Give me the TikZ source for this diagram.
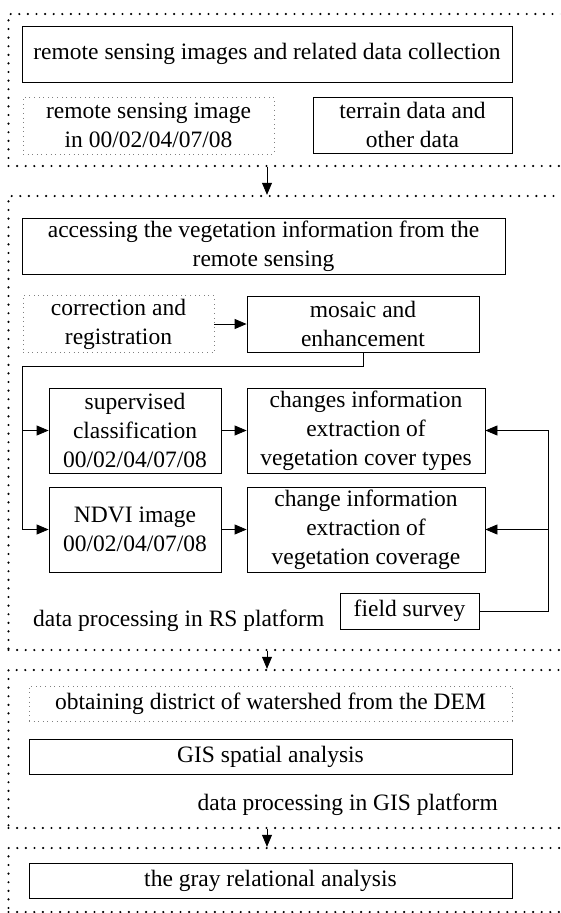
\documentclass[tikz,border=0pt]{standalone}
\usepackage{fontspec}
\setmainfont{Liberation Serif}
\usetikzlibrary{arrows.meta}

\tikzset{
  box/.style={draw, line width=0.8pt, inner sep=0pt, align=center},
  dotbox/.style={draw=gray, line width=0.5pt, dash pattern=on 0.6pt off 4pt, inner sep=0pt, align=center},
  frame/.style={draw, line width=2.4pt, dash pattern=on 0pt off 8.6pt, line cap=round, inner sep=0pt},
  arr/.style={line width=0.8pt, -{Triangle[length=12pt,width=10pt]}},
  every node/.style={font=\fontsize{23.5}{29}\selectfont}
}

\begin{document}
\begin{tikzpicture}[x=1pt,y=-1pt]
\useasboundingbox (0,0) rectangle (560,913);
\clip (0,0) rectangle (560,913);

% the four stages
\node[frame, minimum width=561.5pt, minimum height=152pt] (stage1) at (289.25,90) {};
\node[frame, minimum width=561.5pt, minimum height=454pt] (stage2) at (289.25,423) {};
\node[frame, minimum width=561.5pt, minimum height=158pt] (stage3) at (289.25,749) {};
\node[frame, minimum width=561.5pt, minimum height=64pt] (stage4) at (289.25,880) {};

% data collection
\node[box, minimum width=490pt, minimum height=56pt] (collect) at (267,54) {remote sensing images and related data collection};
\node[dotbox, minimum width=251pt, minimum height=57pt] (rsimg) at (148.5,125.5) {remote sensing image\\in 00/02/04/07/08};
\node[box, minimum width=199pt, minimum height=56pt] (terrain) at (412.5,125) {terrain data and\\other data};

% RS platform
\node[box, minimum width=483pt, minimum height=56pt] (access) at (263.5,246) {accessing the vegetation information from the\\remote sensing};
\node[dotbox, minimum width=191pt, minimum height=57pt] (correct) at (118.5,324) {correction and\\registration};
\node[box, minimum width=232pt, minimum height=56pt] (mosaic) at (363,324) {mosaic and\\enhancement};
\node[box, minimum width=172pt, minimum height=85pt] (superv) at (135,430.5) {supervised\\classification\\00/02/04/07/08};
\node[box, minimum width=238pt, minimum height=85pt] (types) at (366,430.5) {changes information\\extraction of\\vegetation cover types};
\node[box, minimum width=172pt, minimum height=85pt] (ndvi) at (135,529.5) {NDVI image\\00/02/04/07/08};
\node[box, minimum width=238pt, minimum height=85pt] (cover) at (366,529.5) {change information\\extraction of\\vegetation coverage};
\node[box, minimum width=139pt, minimum height=36pt] (survey) at (409.5,611) {field survey};
\node[anchor=base west, inner sep=0pt] (rslabel) at (33,626) {data processing in RS platform};

% GIS platform
\node[dotbox, minimum width=483pt, minimum height=35pt] (dem) at (270.5,703.5) {obtaining district of watershed from the DEM};
\node[box, minimum width=483pt, minimum height=35pt] (gis) at (270.5,756.5) {GIS spatial analysis};
\node[anchor=base east, inner sep=0pt] (gislabel) at (498,810) {data processing in GIS platform};

% grey relational analysis
\node[box, minimum width=483pt, minimum height=35pt] (gray) at (270.5,880.5) {the gray relational analysis};

\coordinate (lbus) at (22,366);
\coordinate (rbus) at (548,430.5);

\draw[arr] (stage1.south -| collect.south) -- (stage2.north -| collect.north);
\draw[arr] (stage2.south -| collect.south) -- (stage3.north -| collect.north);
\draw[arr] (stage3.south -| collect.south) -- (stage4.north -| collect.north);

\draw[arr] (correct) -- (mosaic);
\draw[arr] (mosaic.south) |- (lbus) |- (ndvi.west);
\draw[arr] (lbus |- superv.west) -- (superv.west);
\draw[arr] (superv) -- (types);
\draw[arr] (ndvi) -- (cover);
\draw[arr] (survey.east) -| (rbus) -- (types.east);
\draw[arr] (rbus |- cover.east) -- (cover.east);
\end{tikzpicture}
\end{document}
